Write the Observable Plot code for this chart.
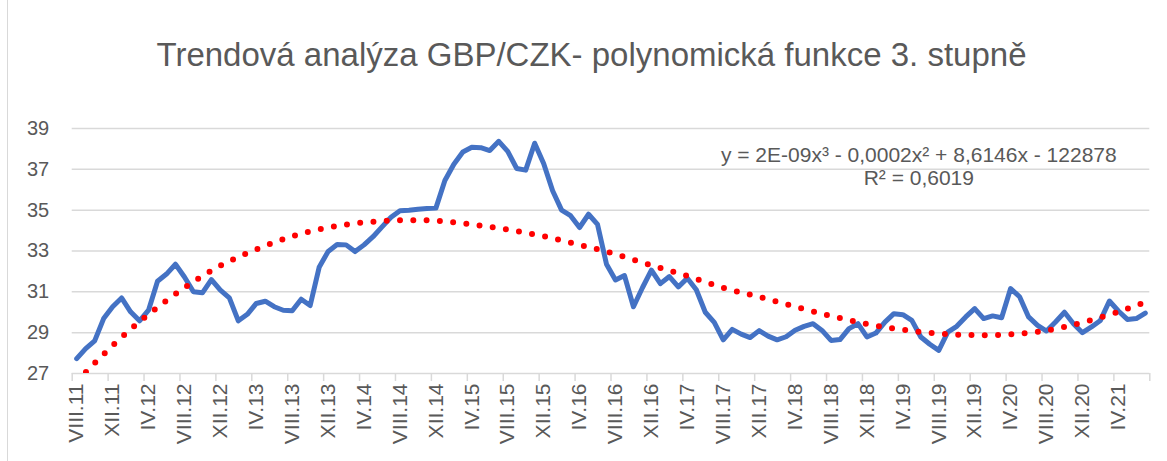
<!DOCTYPE html>
<html>
<head>
<meta charset="utf-8">
<script src="https://cdn.jsdelivr.net/npm/d3@7"></script>
<script src="https://cdn.jsdelivr.net/npm/@observablehq/plot@0.6"></script>
<style>
  html, body { margin: 0; padding: 0; background: #fff; }
  #wrap { position: relative; width: 1167px; height: 461px; overflow: hidden; background: #fff; }
  #title { position: absolute; left: 8px; top: 33px; width: 1167px; text-align: center;
           font-family: "Liberation Sans", Arial, sans-serif; font-size: 33px; color: #595959; line-height: 44px; }
  #chart { position: absolute; left: 0; top: 100px; }
  #frame { position: absolute; left: 7px; top: -1px; width: 1170px; height: 470px; border: 1px solid #d9d9d9; box-sizing: border-box; }
</style>
</head>
<body>
<div id="wrap">
  <div id="frame"></div>
  <div id="title">Trendová analýza GBP/CZK- polynomická funkce 3. stupně</div>
  <div id="chart"></div>
</div>
<script>
// Monthly GBP/CZK, VIII.2011 – VII.2021
const gbpCzk = [
  27.73, 28.22, 28.60, 29.69, 30.27, 30.70, 30.02, 29.58, 30.10, 31.52,
  31.87, 32.35, 31.73, 31.00, 30.95, 31.60, 31.08, 30.70, 29.58, 29.90,
  30.43, 30.54, 30.27, 30.10, 30.07, 30.64, 30.33, 32.20, 32.98, 33.32,
  33.30, 32.97, 33.30, 33.70, 34.18, 34.65, 34.97, 35.00, 35.05, 35.08,
  35.10, 36.45, 37.25, 37.85, 38.08, 38.06, 37.92, 38.37, 37.88, 37.04,
  36.96, 38.28, 37.29, 35.95, 35.00, 34.73, 34.15, 34.80, 34.30, 32.35,
  31.58, 31.80, 30.27, 31.20, 32.06, 31.40, 31.75, 31.24, 31.67, 31.10,
  30.00, 29.50, 28.65, 29.16, 28.93, 28.76, 29.10, 28.83, 28.65, 28.80,
  29.12, 29.31, 29.44, 29.11, 28.62, 28.66, 29.20, 29.44, 28.79, 28.98,
  29.52, 29.93, 29.88, 29.60, 28.79, 28.43, 28.13, 29.03, 29.31, 29.77,
  30.18, 29.69, 29.82, 29.73, 31.16, 30.76, 29.77, 29.36, 29.08, 29.52,
  30.00, 29.44, 29.00, 29.28, 29.60, 30.55, 30.06, 29.65, 29.69, 29.96
];

// Polynomial (3rd degree) trend line at month indices
const trendMonth = [0, 4, 8, 12, 16, 20, 24, 28, 32, 36, 40, 44, 48, 52, 56, 60,
                    64, 68, 72, 76, 80, 84, 88, 92, 96, 100, 104, 108, 112, 116, 119];
const trendValue = [26.60, 28.37, 29.90, 31.20, 32.28, 33.08, 33.72, 34.15, 34.40, 34.50,
                    34.48, 34.30, 34.05, 33.72, 33.30, 32.85, 32.30, 31.78, 31.20, 30.75,
                    30.27, 29.82, 29.42, 29.14, 28.96, 28.88, 28.92, 29.11, 29.50, 30.02, 30.50];

const tickLabels = ["VIII.11","XII.11","IV.12","VIII.12","XII.12","IV.13","VIII.13","XII.13",
  "IV.14","VIII.14","XII.14","IV.15","VIII.15","XII.15","IV.16","VIII.16","XII.16","IV.17",
  "VIII.17","XII.17","IV.18","VIII.18","XII.18","IV.19","VIII.19","XII.19","IV.20","VIII.20",
  "XII.20","IV.21"];
const yTicks = [27, 29, 31, 33, 35, 37, 39];
const equationText = "y = 2E-09x³ - 0,0002x² + 8,6146x - 122878";
const r2Text = "R² = 0,6019";

const series = gbpCzk.map((v, i) => ({i, v}));
const trend = trendMonth.map((m, k) => ({i: m, v: trendValue[k]}));
const labelPos = tickLabels.map((_, k) => k * 4);
const boundaries = d3.range(0, gbpCzk.length + 1, 4).map(d => d - 0.5);

const font = "'Liberation Sans', Arial, sans-serif";
const chart = Plot.plot({
  width: 1167,
  height: 361,
  marginTop: 28,
  marginBottom: 88,
  marginLeft: 71.7,
  marginRight: 17.7,
  style: {fontFamily: font, color: "#595959", background: "transparent", overflow: "visible"},
  x: {domain: [-0.5, gbpCzk.length - 0.5], axis: null},
  y: {domain: [27, 39], axis: null},
  marks: [
    Plot.ruleY(yTicks, {stroke: "#d9d9d9", strokeWidth: 1.5}),
    Plot.axisX(boundaries, {tickSize: 8, stroke: "#d9d9d9", tickFormat: () => "", strokeWidth: 1.5, label: null}),
    Plot.axisX(labelPos, {tickSize: 0, tickRotate: -90, tickPadding: 10, fontSize: 21,
      tickFormat: d => tickLabels[d / 4], fill: "#595959", label: null}),
    Plot.axisY(yTicks, {tickSize: 0, tickPadding: 23, fontSize: 20, fill: "#595959", tickFormat: d => d, label: null}),
    Plot.line(series, {x: "i", y: "v", stroke: "#4472C4", strokeWidth: 5,
      strokeLinejoin: "round", strokeLinecap: "round"}),
    Plot.line(trend, {x: "i", y: "v", stroke: "#ff0000", strokeWidth: 6, curve: "natural",
      strokeDasharray: "0 13.3", strokeLinecap: "round", clip: true}),
    Plot.text([equationText + "\n" + r2Text], {frameAnchor: "top-right", dx: -231, dy: 17,
      textAnchor: "middle", lineAnchor: "top", fontSize: 21, lineHeight: 1.1, fill: "#595959"})
  ]
});
document.getElementById("chart").appendChild(chart);
</script>
</body>
</html>
